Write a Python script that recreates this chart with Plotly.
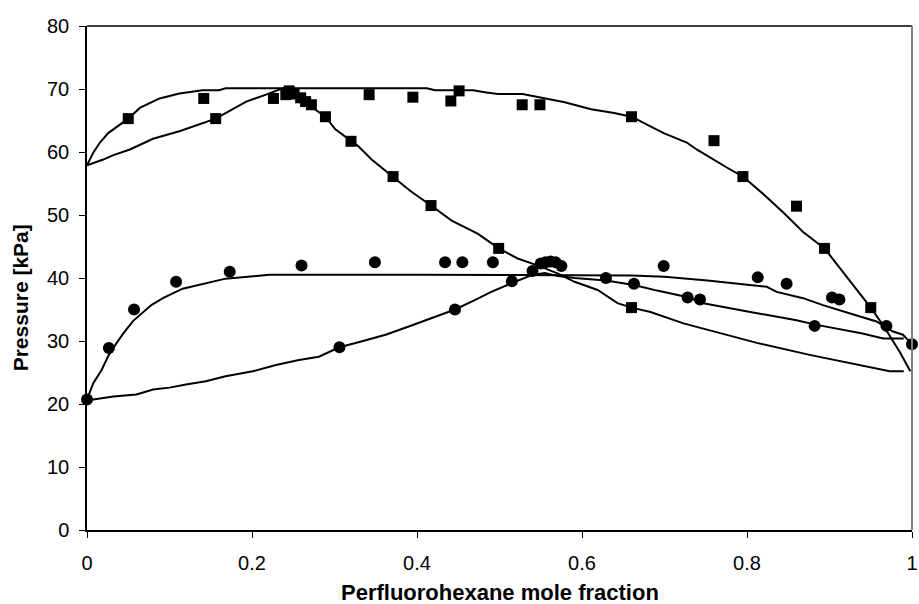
import plotly.graph_objects as go

# ---- data: experimental points ----
sq_x = [0.050, 0.1415, 0.156, 0.226, 0.241, 0.245, 0.251, 0.259, 0.265, 0.272, 0.289, 0.320,
        0.342, 0.371, 0.395, 0.417, 0.441, 0.451, 0.499, 0.5275, 0.549, 0.660, 0.660, 0.760,
        0.795, 0.860, 0.894, 0.950]
sq_y = [65.3, 68.5, 65.3, 68.5, 69.1, 69.7, 69.2, 68.6, 68.0, 67.5, 65.6, 61.7,
        69.1, 56.1, 68.7, 51.5, 68.1, 69.7, 44.7, 67.5, 67.5, 65.6, 35.3, 61.8,
        56.1, 51.4, 44.7, 35.3]

ci_x = [0.0, 0.0265, 0.057, 0.108, 0.173, 0.260, 0.306, 0.349, 0.434, 0.446, 0.455, 0.492,
        0.515, 0.540, 0.550, 0.556, 0.562, 0.568, 0.575, 0.629, 0.663, 0.699, 0.728, 0.743,
        0.813, 0.848, 0.882, 0.903, 0.912, 0.969, 1.0]
ci_y = [20.7, 28.9, 35.0, 39.4, 41.0, 42.0, 29.0, 42.5, 42.5, 35.0, 42.5, 42.5,
        39.5, 41.1, 42.3, 42.5, 42.6, 42.5, 41.9, 40.0, 39.1, 41.9, 36.9, 36.6,
        40.1, 39.1, 32.4, 36.9, 36.6, 32.4, 29.5]

# ---- data: model curves ----
sqL_x = [0, 0.0076, 0.0157, 0.0257, 0.05, 0.064, 0.088, 0.112, 0.140, 0.160, 0.168, 0.30,
         0.412, 0.422, 0.468, 0.482, 0.498, 0.528, 0.546, 0.579, 0.611, 0.639, 0.660, 0.699,
         0.727, 0.739, 0.776, 0.795, 0.820, 0.844, 0.868, 0.894, 0.932, 0.950, 0.965, 0.985, 0.998]
sqL_y = [57.9, 59.9, 61.5, 63.0, 65.3, 67.0, 68.5, 69.3, 69.8, 69.8, 70.1, 70.1,
         70.1, 69.8, 69.8, 69.5, 69.2, 69.2, 68.7, 67.9, 66.8, 66.2, 65.6, 63.0,
         61.5, 60.4, 57.5, 56.1, 53.3, 50.4, 47.3, 44.7, 38.3, 35.3, 32.5, 28.3, 25.2]

sqV_x = [0, 0.0197, 0.032, 0.052, 0.080, 0.112, 0.156, 0.193, 0.217, 0.237, 0.250, 0.265,
         0.277, 0.289, 0.301, 0.313, 0.329, 0.345, 0.371, 0.392, 0.417, 0.442, 0.474, 0.499,
         0.522, 0.546, 0.571, 0.591, 0.619, 0.643, 0.660, 0.683, 0.723, 0.776, 0.812, 0.876,
         0.924, 0.973, 0.99]
sqV_y = [57.9, 58.8, 59.5, 60.4, 62.1, 63.3, 65.3, 68.0, 69.1, 70.1, 69.3, 68.0,
         66.7, 65.6, 63.6, 62.4, 60.9, 58.8, 56.1, 53.8, 51.5, 49.1, 47.0, 44.7,
         43.1, 42.0, 40.7, 39.4, 38.1, 36.0, 35.3, 34.6, 32.8, 31.0, 29.7, 27.8,
         26.5, 25.2, 25.2]

ciL_x = [0, 0.0057, 0.0076, 0.0177, 0.0265, 0.036, 0.044, 0.056, 0.078, 0.092, 0.116, 0.168,
         0.221, 0.40, 0.60, 0.66, 0.70, 0.752, 0.824, 0.836, 0.868, 0.892, 0.932, 0.957,
         0.977, 0.989, 0.997]
ciL_y = [20.7, 22.6, 23.3, 25.4, 27.8, 29.7, 31.2, 33.2, 35.7, 36.8, 38.3, 39.9,
         40.5, 40.5, 40.5, 40.4, 40.2, 39.6, 38.6, 37.8, 36.8, 35.7, 34.1, 33.1,
         31.5, 31.0, 29.9]

ciV_x = [0, 0.0076, 0.032, 0.06, 0.08, 0.10, 0.12, 0.144, 0.168, 0.201, 0.229, 0.257,
         0.281, 0.306, 0.329, 0.362, 0.39, 0.418, 0.446, 0.47, 0.49, 0.515, 0.54, 0.555,
         0.571, 0.591, 0.629, 0.663, 0.691, 0.727, 0.747, 0.804, 0.86, 0.883, 0.94, 0.965, 0.99]
ciV_y = [20.7, 20.7, 21.2, 21.5, 22.3, 22.6, 23.1, 23.6, 24.4, 25.2, 26.2, 27.0,
         27.5, 29.0, 29.8, 31.0, 32.3, 33.7, 35.0, 36.5, 37.8, 39.2, 40.5, 40.8,
         40.3, 40.0, 39.6, 38.9, 38.0, 37.0, 36.0, 34.6, 33.3, 32.6, 31.2, 30.4, 30.4]

x_ticks = [0, 0.2, 0.4, 0.6, 0.8, 1]
x_labels = ["0", "0.2", "0.4", "0.6", "0.8", "1"]
y_ticks = [0, 10, 20, 30, 40, 50, 60, 70, 80]
x_title = "Perfluorohexane mole fraction"
y_title = "Pressure [kPa]"

fig = go.Figure()
line_style = dict(color="black", width=2)
for lx, ly in [(sqL_x, sqL_y), (sqV_x, sqV_y), (ciL_x, ciL_y), (ciV_x, ciV_y)]:
    fig.add_trace(go.Scatter(x=lx, y=ly, mode="lines", line=line_style,
                             showlegend=False, hoverinfo="skip", cliponaxis=False))

fig.add_trace(go.Scatter(x=sq_x, y=sq_y, mode="markers",
                         marker=dict(symbol="square", size=11, color="black"),
                         showlegend=False, cliponaxis=False))
fig.add_trace(go.Scatter(x=ci_x, y=ci_y, mode="markers",
                         marker=dict(symbol="circle", size=12, color="black"),
                         showlegend=False, cliponaxis=False))

font_family = "Liberation Sans, Arial, sans-serif"
fig.update_layout(
    width=919, height=604,
    margin=dict(l=87, r=7, t=26, b=74, autoexpand=False),
    paper_bgcolor="white", plot_bgcolor="white",
    font=dict(family=font_family, color="black", size=20),
    xaxis=dict(range=[0, 1], tickvals=x_ticks, ticktext=x_labels,
               showgrid=False, zeroline=False, showline=True, linecolor="black",
               linewidth=1.5, ticks="outside", ticklen=6, tickcolor="black",
               tickfont=dict(size=20), ticklabelstandoff=8,
               ticklabeloverflow="allow", automargin=False),
    yaxis=dict(range=[0, 80], tickvals=y_ticks,
               showgrid=False, zeroline=False, showline=True, linecolor="black",
               linewidth=1.5, ticks="outside", ticklen=6, tickcolor="black",
               tickfont=dict(size=20), ticklabelstandoff=6, automargin=False),
    shapes=[
        dict(type="line", xref="paper", yref="paper", x0=0, x1=1, y0=1, y1=1,
             line=dict(color="black", width=1.5)),
        dict(type="line", xref="paper", yref="paper", x0=1, x1=1, y0=0, y1=1,
             line=dict(color="#808080", width=2)),
    ],
    annotations=[
        dict(text="<b>" + x_title + "</b>", xref="paper", yref="paper",
             x=0.5, y=-0.124, xanchor="center", yanchor="middle", showarrow=False,
             font=dict(size=22)),
        dict(text="<b>" + y_title + "</b>", xref="paper", yref="paper",
             x=-0.081, y=0.46, xanchor="center", yanchor="middle", showarrow=False,
             textangle=-90, font=dict(size=21)),
    ],
)

fig.write_html("out.html")
